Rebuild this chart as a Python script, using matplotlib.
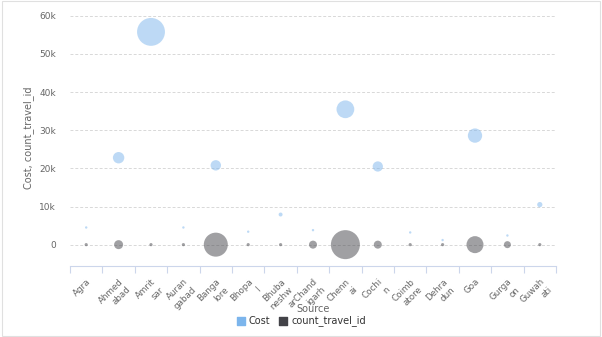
import matplotlib.pyplot as plt
from matplotlib.ticker import FuncFormatter
import numpy as np

# data
sources = ["Agra", "Ahmedabad", "Amritsar", "Aurangabad", "Bangalore", "Bhopal",
           "Bhubaneshwar", "Chandigarh", "Chennai", "Cochin", "Coimbatore",
           "Dehradun", "Goa", "Gurgaon", "Guwahati"]
tick_labels = ["Agra", "Ahmed\nabad", "Amrit\nsar", "Auran\ngabad", "Banga\nlore", "Bhopa\nl",
               "Bhuba\nneshw", "arChand\nigarh", "Chenn\nai", "Cochi\nn", "Coimb\natore",
               "Dehra\ndun", "Goa", "Gurga\non", "Guwah\nati"]
cost = [4500, 22800, 55800, 4500, 20800, 3400, 7900, 3800, 35500, 20500, 3200,
        1200, 28600, 2400, 10500]
count_travel_id = [3, 9, 2, 3, 24, 3, 2, 8, 29, 8, 2, 2, 17, 7, 2]

fig = plt.figure(figsize=(6.02, 3.37), dpi=100)
ax = fig.add_axes([70 / 602, 1 - 266 / 337, 486 / 602, (266 - 9) / 337])

x = np.arange(len(sources))
px = 0.72  # points per pixel at dpi 100

# bubble radius in pixels, roughly linear in value
r_cost = np.maximum(np.array(cost) * 0.25 / 1000, 1.2)
r_cnt = np.maximum(np.array(count_travel_id) * 0.5, 1.6)

ax.scatter(x, cost, s=(2 * r_cost * px) ** 2, color="#7cb5ec", alpha=0.5,
           edgecolors="none", zorder=3)
ax.scatter(x, np.zeros(len(x)), s=(2 * r_cnt * px) ** 2, color="#434348", alpha=0.5,
           edgecolors="none", zorder=3)

ax.set_xlim(-0.5, len(sources) - 0.5)
ax.set_ylim(-5600, 61800)
ax.set_yticks(np.arange(0, 60001, 10000))
ax.yaxis.set_major_formatter(FuncFormatter(lambda v, p: "0" if v == 0 else f"{int(v / 1000)}k"))
ax.grid(axis="y", color="#d8d8d8", linestyle=(0, (3, 2)), linewidth=0.7)
ax.set_axisbelow(True)

ax.set_xticks(x)
ax.set_xticklabels(tick_labels, rotation=45, ha="right", rotation_mode="anchor",
                   fontsize=6.3, color="#666666", linespacing=1.3)
ax.set_xticks(np.arange(-0.5, len(sources), 1), minor=True)
ax.tick_params(axis="x", which="major", length=0, pad=8)
ax.tick_params(axis="x", which="minor", length=5, color="#ccd6eb", width=0.8)
ax.tick_params(axis="y", length=0, labelsize=6.5, labelcolor="#666666", pad=10)

for s in ["top", "right", "left"]:
    ax.spines[s].set_visible(False)
ax.spines["bottom"].set_color("#ccd6eb")
ax.spines["bottom"].set_linewidth(0.8)

fig.text(313 / 602, 1 - 309 / 337, "Source", fontsize=7, color="#666666",
         ha="center", va="center")
ax.set_ylabel("Cost, count_travel_id", fontsize=7, color="#666666", labelpad=4)

h1 = ax.scatter([], [], marker="s", s=36, color="#7cb5ec")
h2 = ax.scatter([], [], marker="s", s=36, color="#434348")
fig.legend([h1, h2], ["Cost", "count_travel_id"], loc="center", bbox_to_anchor=(0.5, 1 - 321 / 337),
           ncol=2, frameon=False, fontsize=7, handletextpad=0.3, columnspacing=0.8,
           handlelength=1.0, labelcolor="#333333")

fig.patches.append(plt.Rectangle((0.003, 0.003), 0.994, 0.994, transform=fig.transFigure,
                                 fill=False, edgecolor="#e0e0e0", linewidth=0.8))

fig.savefig("out.png", dpi=100)
